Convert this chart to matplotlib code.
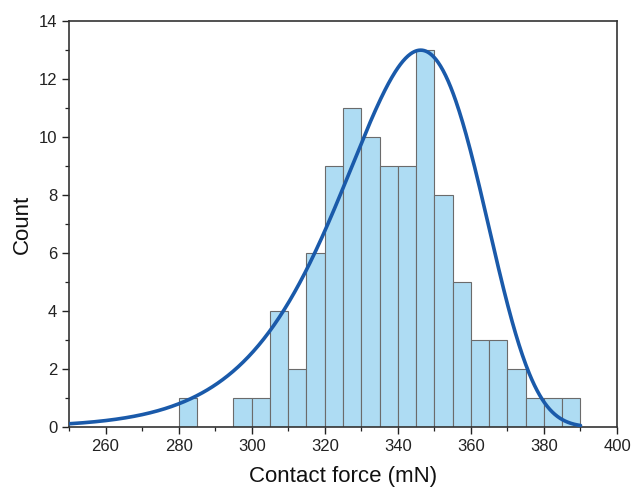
import numpy as np
import matplotlib
matplotlib.use("Agg")
import matplotlib.pyplot as plt
from matplotlib.ticker import MultipleLocator

plt.rcParams['font.family'] = ['Liberation Sans', 'DejaVu Sans']

# Histogram data (bin edges every 5 mN, from 280 to 390)
bin_left = [280, 285, 290, 295, 300, 305, 310, 315, 320, 325, 330,
            335, 340, 345, 350, 355, 360, 365, 370, 375, 380, 385]
counts = [1, 0, 0, 1, 1, 4, 2, 6, 9, 11, 10,
          9, 9, 13, 8, 5, 3, 3, 2, 1, 1, 1]
bin_width = 5

# Fitted Weibull distribution curve parameters
fit_shape = 18.5
fit_scale = 347.3
fit_peak = 13.0
fit_range = (250, 390)

fig = plt.figure(figsize=(6.35, 4.92), dpi=100)
ax = fig.add_axes([0.1087, 0.1321, 0.9717 - 0.1087, 0.957 - 0.1321])

ax.bar(bin_left, counts, width=bin_width, align='edge',
       color='#aedcf3', edgecolor='#6b6b6b', linewidth=0.8, zorder=2)

x = np.linspace(fit_range[0], fit_range[1], 600)
k, lam = fit_shape, fit_scale
pdf = (k / lam) * (x / lam) ** (k - 1) * np.exp(-(x / lam) ** k)
curve = pdf / pdf.max() * fit_peak
ax.plot(x, curve, color='#1a5aaa', linewidth=2.6, zorder=3, solid_capstyle='round')

ax.set_xlim(250, 400)
ax.set_ylim(0, 14)
ax.xaxis.set_major_locator(MultipleLocator(20))
ax.xaxis.set_minor_locator(MultipleLocator(10))
ax.yaxis.set_major_locator(MultipleLocator(2))
ax.yaxis.set_minor_locator(MultipleLocator(1))
ax.set_xticks([260, 280, 300, 320, 340, 360, 380, 400])

ax.tick_params(which='major', direction='out', length=5, width=1.0, labelsize=12, colors='#222222')
ax.tick_params(which='minor', direction='out', length=3, width=0.9, colors='#222222')
for s in ax.spines.values():
    s.set_linewidth(1.2)
    s.set_color('#333333')

ax.set_xlabel('Contact force (mN)', fontsize=16, labelpad=9, color='#111111')
ax.set_ylabel('Count', fontsize=16, labelpad=4, color='#111111')

fig.savefig('out.png', dpi=100)
